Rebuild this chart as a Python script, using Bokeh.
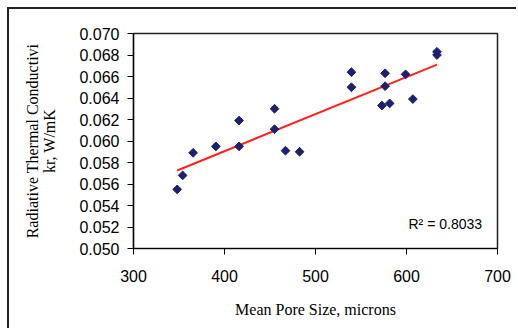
import numpy as np
from bokeh.plotting import figure
from bokeh.models import Range1d, FixedTicker, Label, NumeralTickFormatter
from bokeh.embed import file_html
from bokeh.resources import INLINE

pore_size = [348, 354, 365.5, 390.5, 416, 416, 455, 455, 467, 482.5,
             539.5, 539.5, 573, 576.5, 576.5, 581.5, 599, 607, 633.5, 633.5]
conductivity = [0.0555, 0.0568, 0.0589, 0.0595, 0.0619, 0.0595, 0.0630, 0.0611, 0.0591, 0.0590,
                0.0664, 0.0650, 0.0633, 0.0663, 0.0651, 0.0635, 0.0662, 0.0639, 0.0683, 0.0680]
x_ticks = [300, 400, 500, 600, 700]
y_ticks = [0.050, 0.052, 0.054, 0.056, 0.058, 0.060, 0.062, 0.064, 0.066, 0.068, 0.070]
r2_text = "R\u00b2 = 0.8033"

slope, intercept = np.polyfit(pore_size, conductivity, 1)
fit_x = [min(pore_size), max(pore_size)]
fit_y = [slope * v + intercept for v in fit_x]

p = figure(width=509, height=321, output_backend="svg", toolbar_location=None,
           x_range=Range1d(300, 700), y_range=Range1d(0.050, 0.070),
           min_border_left=124, min_border_right=21, min_border_top=24, min_border_bottom=82)
p.styles = {"border-left": "2px solid #222222", "border-top": "2px solid #222222",
            "margin-left": "7px", "margin-top": "7px"}
p.xgrid.visible = False
p.ygrid.visible = False
p.outline_line_color = "#222222"
p.outline_line_width = 1.5

tick_font = "Liberation Sans"
for ax in (p.xaxis[0], p.yaxis[0]):
    ax.axis_line_color = "black"
    ax.axis_line_width = 1.2
    ax.major_tick_line_color = "black"
    ax.major_tick_in = 0
    ax.major_tick_out = 6
    ax.minor_tick_line_color = None
    ax.major_label_text_font = tick_font
    ax.major_label_text_font_size = "16px"
    ax.major_label_text_color = "black"
    ax.axis_label_text_font = "Liberation Serif"
    ax.axis_label_text_font_style = "normal"
    ax.axis_label_text_font_size = "16px"
    ax.axis_label_text_color = "black"

p.xaxis.ticker = FixedTicker(ticks=x_ticks)
p.yaxis.ticker = FixedTicker(ticks=y_ticks)
p.yaxis.formatter = NumeralTickFormatter(format="0.000")
p.xaxis.major_label_standoff = 15
p.yaxis.major_label_standoff = 8
p.xaxis.axis_label = "Mean Pore Size, microns"
p.xaxis.axis_label_standoff = 16
p.yaxis.axis_label = "Radiative Thermal Conductivi\nkr, W/mK"
p.yaxis.axis_label_standoff = 18
p.yaxis.axis_label_text_line_height = 1.0

p.line(fit_x, fit_y, line_color="#ff2020", line_width=2)
p.scatter(pore_size, conductivity, marker="square", angle=np.pi / 4, size=6.2,
          fill_color="#1f1f6e", line_color="#1f1f6e")

p.add_layout(Label(x=683, y=0.0523, text=r2_text, text_align="right", text_baseline="alphabetic",
                   text_font="Liberation Sans", text_font_size="14px", text_color="black"))

open("out.html", "w").write(file_html(p, INLINE))
